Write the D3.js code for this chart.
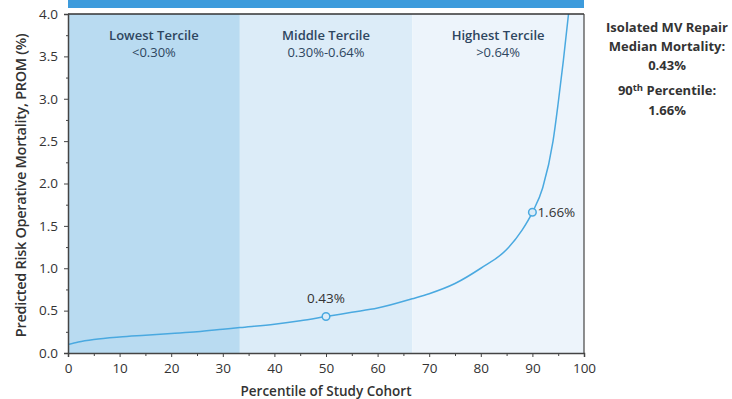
<!DOCTYPE html>
<html><head><meta charset="utf-8">
<script src="https://cdn.jsdelivr.net/npm/d3@7"></script>
<style>
body{margin:0;background:#fff;}
svg{display:block;font-family:"Open Sans","Noto Sans",sans-serif;}
</style></head>
<body><svg id="c" width="732" height="399"></svg>
<script>
const percentiles = [0,2,5,10,15,20,25,30,33.3,40,45,50,55,60,66.7,70,75,80,85,88,90,92,94,95,96,97,97.5];
const prom =        [0.10,0.13,0.16,0.19,0.21,0.23,0.25,0.28,0.30,0.34,0.38,0.43,0.48,0.53,0.64,0.70,0.82,1.0,1.22,1.45,1.66,1.95,2.5,2.95,3.45,4.0,4.3];
const terciles = [
  {name:"Lowest Tercile", range:"<0.30%", from:0, to:33.3, fill:"#b9dbf1"},
  {name:"Middle Tercile", range:"0.30%-0.64%", from:33.3, to:66.7, fill:"#dcecf8"},
  {name:"Highest Tercile", range:">0.64%", from:66.7, to:100, fill:"#edf4fb"}
];
const markers = [{p:50, v:0.43, label:"0.43%"},{p:90, v:1.66, label:"1.66%"}];
const xTicks = [0,10,20,30,40,50,60,70,80,90,100];
const yTicks = [0,0.5,1,1.5,2,2.5,3,3.5,4];

const svg = d3.select("#c");
const L=68,R=584,T=14,B=353;
const x = d3.scaleLinear().domain([0,100]).range([L,R]);
const y = d3.scaleLinear().domain([0,4]).range([B,T]);

// top blue bar
svg.append("rect").attr("x",L).attr("y",0).attr("width",R-L).attr("height",8).attr("fill","#3d9bdc");

// tercile bands
svg.selectAll("rect.band").data(terciles).enter().append("rect")
  .attr("x",d=>x(d.from)).attr("y",T).attr("width",d=>x(d.to)-x(d.from)).attr("height",B-T)
  .attr("fill",d=>d.fill);
const tl = svg.selectAll("g.tl").data(terciles).enter().append("g");
tl.append("text").attr("x",d=>x((d.from+d.to)/2)).attr("y",40).attr("text-anchor","middle")
  .attr("font-size",13).attr("font-weight",600).attr("fill","#2e4660").text(d=>d.name);
tl.append("text").attr("x",d=>x((d.from+d.to)/2)).attr("y",57).attr("text-anchor","middle")
  .attr("font-size",13).attr("fill","#2e4660").text(d=>d.range);

// clip
svg.append("clipPath").attr("id","clip").append("rect").attr("x",L).attr("y",T).attr("width",R-L).attr("height",B-T);

const line = d3.line().x((d,i)=>x(percentiles[i])).y((d,i)=>y(prom[i])).curve(d3.curveMonotoneX);
svg.append("path").datum(prom).attr("d",line).attr("fill","none").attr("stroke","#4aa9e0")
  .attr("stroke-width",1.5).attr("clip-path","url(#clip)");

// frame
svg.append("line").attr("x1",L).attr("x2",R).attr("y1",T).attr("y2",T).attr("stroke","#333").attr("stroke-width",1.5);
svg.append("line").attr("x1",R).attr("x2",R).attr("y1",T).attr("y2",B).attr("stroke","#444").attr("stroke-width",1.2);

// axes
svg.append("g").attr("transform",`translate(0,${B})`)
  .call(d3.axisBottom(x).tickValues(xTicks).tickFormat(d3.format("d")).tickSize(4).tickPadding(6));
svg.append("g").attr("transform",`translate(0,${B})`)
  .call(d3.axisBottom(x).tickValues(d3.range(5,100,10)).tickFormat("").tickSize(3))
  .call(g=>g.select(".domain").remove());
svg.append("g").attr("transform",`translate(${L},0)`)
  .call(d3.axisLeft(y).tickValues(yTicks).tickFormat(d3.format(".1f")).tickSize(4).tickPadding(6));
svg.append("g").attr("transform",`translate(${L},0)`)
  .call(d3.axisLeft(y).tickValues(d3.range(0.25,4,0.5)).tickFormat("").tickSize(2))
  .call(g=>g.select(".domain").remove());
svg.selectAll(".domain").attr("stroke","#444").attr("stroke-width",1.5);
svg.selectAll(".tick line").attr("stroke","#444");
svg.selectAll(".tick text").attr("font-size",13.5).attr("fill","#333").attr("font-family","'Open Sans',sans-serif");

// markers
svg.selectAll("circle.m").data(markers).enter().append("circle")
  .attr("cx",d=>x(d.p)).attr("cy",d=>y(d.v)).attr("r",3.8)
  .attr("fill","#dcecf8").attr("stroke","#4aa9e0").attr("stroke-width",1.5);
svg.append("text").attr("x",x(markers[0].p)).attr("y",y(markers[0].v)-14).attr("text-anchor","middle")
  .attr("font-size",13.5).attr("fill","#333").text(markers[0].label);
svg.append("text").attr("x",x(markers[1].p)+5).attr("y",y(markers[1].v)+5).attr("text-anchor","start")
  .attr("font-size",13.5).attr("fill","#333").text(markers[1].label);

// axis titles
svg.append("text").attr("transform",`translate(26,${(T+B)/2 + 2}) rotate(-90)`).attr("text-anchor","middle")
  .attr("font-size",14.5).attr("font-weight",600).attr("fill","#333").attr("letter-spacing",-0.3)
  .text("Predicted Risk Operative Mortality, PROM (%)");
svg.append("text").attr("x",x(50)).attr("y",396).attr("text-anchor","middle")
  .attr("font-size",13.5).attr("font-weight",600).attr("fill","#333").text("Percentile of Study Cohort");

// side note
const sx=667;
const side = [["Isolated MV Repair",32],["Median Mortality:",51],["0.43%",70]];
side.forEach(([t,yy])=>svg.append("text").attr("x",sx).attr("y",yy).attr("text-anchor","middle")
  .attr("font-size",13).attr("font-weight",700).attr("fill","#333").text(t));
const p90 = svg.append("text").attr("x",sx).attr("y",95).attr("text-anchor","middle")
  .attr("font-size",13).attr("font-weight",700).attr("fill","#333");
p90.append("tspan").text("90");
p90.append("tspan").attr("font-size",9.5).attr("dy",-4).text("th");
p90.append("tspan").attr("dy",4).text(" Percentile:");
svg.append("text").attr("x",sx).attr("y",115).attr("text-anchor","middle")
  .attr("font-size",13).attr("font-weight",700).attr("fill","#333").text("1.66%");
</script></body></html>
